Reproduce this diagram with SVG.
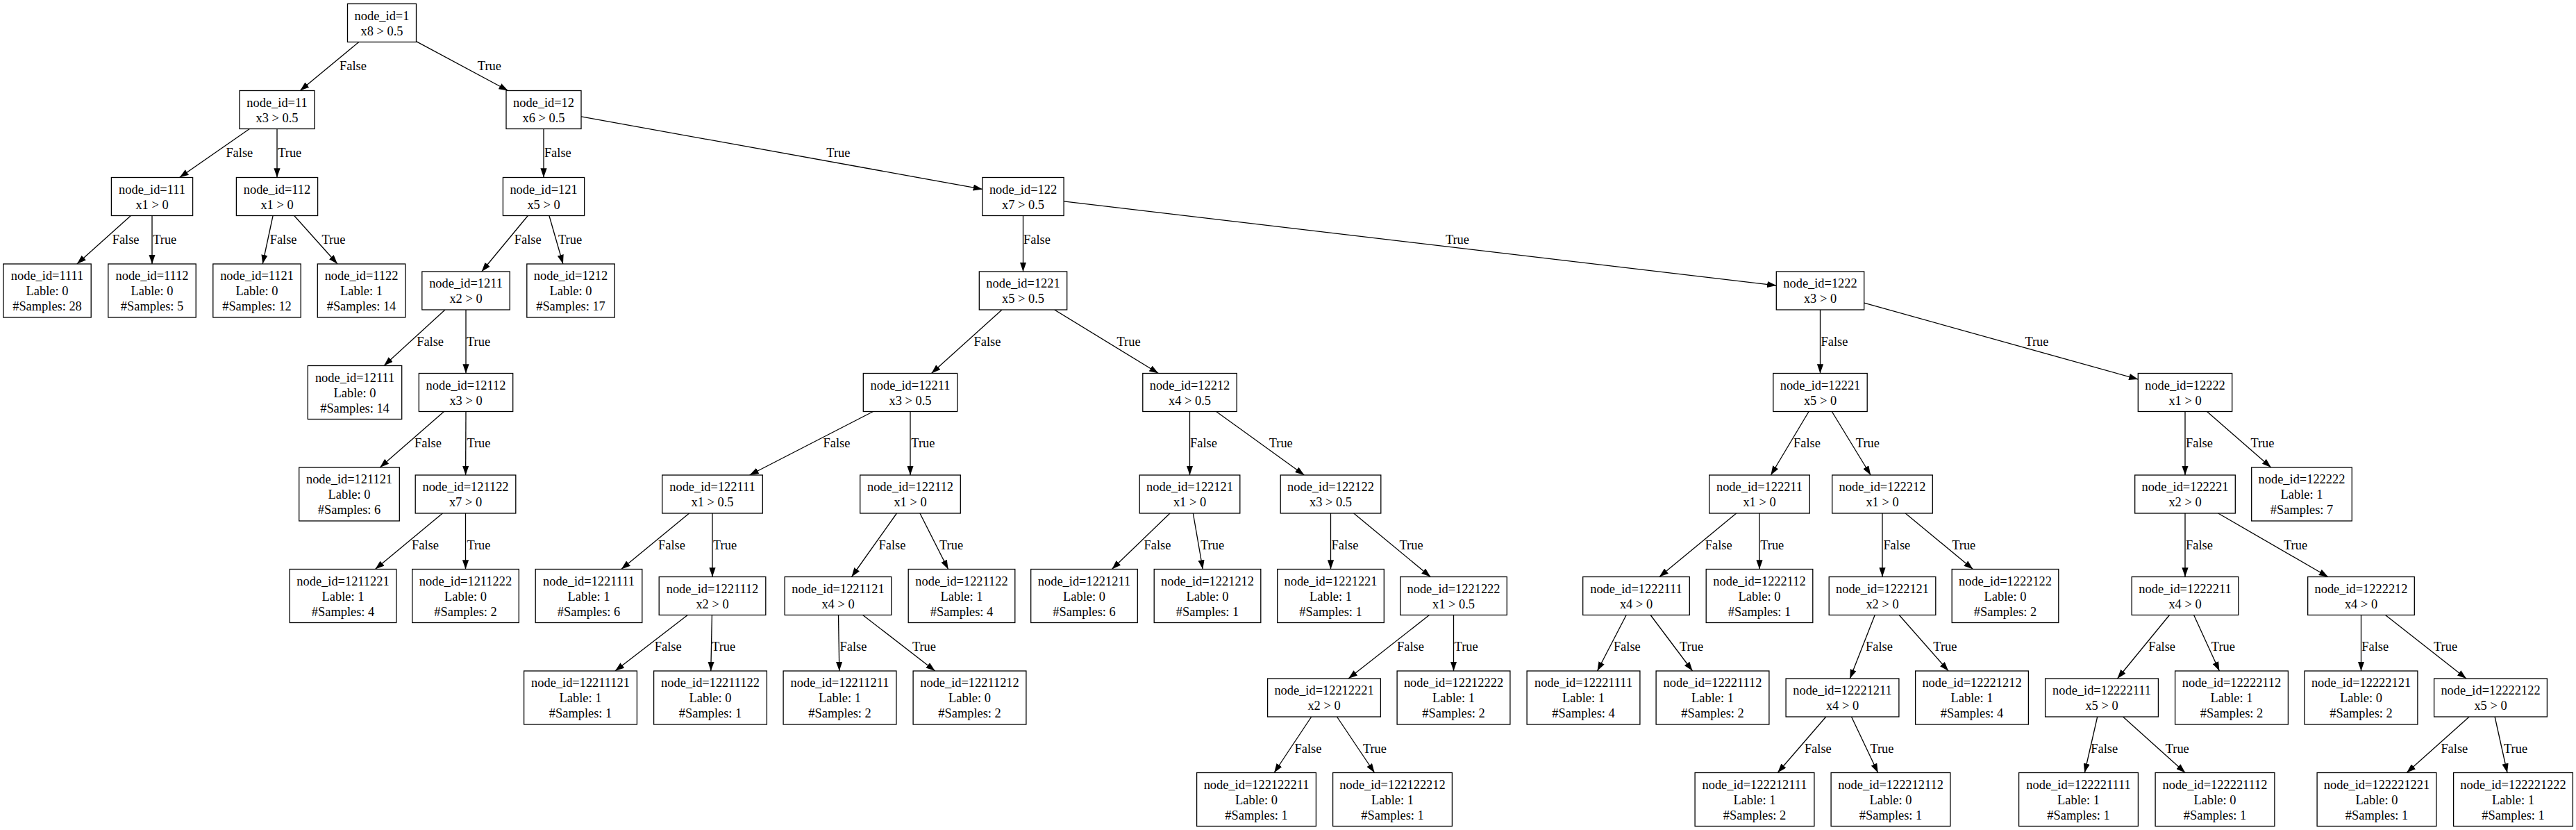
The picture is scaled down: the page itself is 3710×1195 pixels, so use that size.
<svg xmlns="http://www.w3.org/2000/svg" width="3710" height="1195" viewBox="0 0 3710 1195">
<style>
.node rect{fill:#fff;stroke:#000;stroke-width:1.3}
.node text,.el text{font-family:"Liberation Serif","Times New Roman",serif;font-size:18.4px;fill:#000}
.node text{text-anchor:middle}
.el text{text-anchor:start}
.edges line{stroke:#000;stroke-width:1.3;fill:none;marker-end:url(#arr)}
</style>
<defs>
<marker id="arr" markerUnits="userSpaceOnUse" markerWidth="13.2" markerHeight="9.2" viewBox="0 0 13.2 9.2" refX="13.2" refY="4.6" orient="auto"><path d="M0,0 L13.2,4.6 L0,9.2 z" fill="#000"/></marker>
</defs>
<rect width="3710" height="1195" fill="#fff"/>
<g id="connectors">
<g class="edges">
<line x1="516.8" y1="60.5" x2="432.2" y2="130.5"/>
<line x1="599.5" y1="59.6" x2="731.7" y2="130.5"/>
<line x1="359.4" y1="185.5" x2="258.6" y2="255.5"/>
<line x1="399" y1="185.5" x2="399" y2="255.5"/>
<line x1="783" y1="185.5" x2="783" y2="255.5"/>
<line x1="837" y1="167.8" x2="1414.9" y2="272.4"/>
<line x1="188.4" y1="310.5" x2="110.9" y2="380"/>
<line x1="219" y1="310.5" x2="219" y2="380"/>
<line x1="393.1" y1="310.5" x2="378.2" y2="380"/>
<line x1="423.7" y1="310.5" x2="486" y2="380"/>
<line x1="760.3" y1="310.5" x2="693.7" y2="391"/>
<line x1="790.9" y1="310.5" x2="810.9" y2="380"/>
<line x1="1473.5" y1="310.5" x2="1473.5" y2="391"/>
<line x1="1532.1" y1="289.9" x2="2558.3" y2="411"/>
<line x1="641" y1="446" x2="553" y2="526.5"/>
<line x1="671" y1="446" x2="671" y2="537.5"/>
<line x1="1443" y1="446" x2="1341.5" y2="537.5"/>
<line x1="1518.6" y1="446" x2="1668.4" y2="537.5"/>
<line x1="2621.5" y1="446" x2="2621.5" y2="537.5"/>
<line x1="2684.7" y1="436.1" x2="3079.3" y2="546.1"/>
<line x1="639.5" y1="592.5" x2="547.2" y2="673"/>
<line x1="671" y1="592.5" x2="670.6" y2="684"/>
<line x1="1257.5" y1="592.5" x2="1079.5" y2="684"/>
<line x1="1311" y1="592.5" x2="1311" y2="684"/>
<line x1="1713.5" y1="592.5" x2="1713.5" y2="684"/>
<line x1="1751.6" y1="592.5" x2="1878.4" y2="684"/>
<line x1="2605.1" y1="592.5" x2="2550.4" y2="684"/>
<line x1="2638.3" y1="592.5" x2="2694.2" y2="684"/>
<line x1="3147" y1="592.5" x2="3147" y2="684"/>
<line x1="3178.5" y1="592.5" x2="3270.8" y2="673"/>
<line x1="637.4" y1="739" x2="540.4" y2="819.5"/>
<line x1="670.5" y1="739" x2="670.5" y2="819.5"/>
<line x1="992.6" y1="739" x2="894.8" y2="819.5"/>
<line x1="1026" y1="739" x2="1026" y2="830.5"/>
<line x1="1291.5" y1="739" x2="1226.5" y2="830.5"/>
<line x1="1324.9" y1="739" x2="1365.6" y2="819.5"/>
<line x1="1685" y1="739" x2="1601.4" y2="819.5"/>
<line x1="1718.3" y1="739" x2="1732.3" y2="819.5"/>
<line x1="1916.5" y1="739" x2="1916.5" y2="819.5"/>
<line x1="1949.7" y1="739" x2="2060.3" y2="830.5"/>
<line x1="2500.7" y1="739" x2="2389.8" y2="830.5"/>
<line x1="2534" y1="739" x2="2534" y2="819.5"/>
<line x1="2711" y1="739" x2="2711" y2="830.5"/>
<line x1="2744.2" y1="739" x2="2841.5" y2="819.5"/>
<line x1="3147" y1="739" x2="3147" y2="830.5"/>
<line x1="3194.6" y1="739" x2="3352.9" y2="830.5"/>
<line x1="990.3" y1="885.5" x2="885.9" y2="966"/>
<line x1="1025.4" y1="885.5" x2="1023.8" y2="966"/>
<line x1="1207.5" y1="885.5" x2="1208.8" y2="966"/>
<line x1="1242.6" y1="885.5" x2="1346.7" y2="966"/>
<line x1="2058.5" y1="885.5" x2="1942" y2="977"/>
<line x1="2093.5" y1="885.5" x2="2093.5" y2="966"/>
<line x1="2342.2" y1="885.5" x2="2300.5" y2="966"/>
<line x1="2377.1" y1="885.5" x2="2437.6" y2="966"/>
<line x1="2700.2" y1="885.5" x2="2664.3" y2="977"/>
<line x1="2735.2" y1="885.5" x2="2806.1" y2="966"/>
<line x1="3124.5" y1="885.5" x2="3049.5" y2="977"/>
<line x1="3159.6" y1="885.5" x2="3196.4" y2="966"/>
<line x1="3400.5" y1="885.5" x2="3400.5" y2="966"/>
<line x1="3435.5" y1="885.5" x2="3552" y2="977"/>
<line x1="1888.7" y1="1032" x2="1835.1" y2="1112.5"/>
<line x1="1925.5" y1="1032" x2="1979.6" y2="1112.5"/>
<line x1="2629.8" y1="1032" x2="2560.2" y2="1112.5"/>
<line x1="2666.5" y1="1032" x2="2704.7" y2="1112.5"/>
<line x1="3020.7" y1="1032" x2="3002.3" y2="1112.5"/>
<line x1="3057.6" y1="1032" x2="3147.2" y2="1112.5"/>
<line x1="3556.2" y1="1032" x2="3466.1" y2="1112.5"/>
<line x1="3593.1" y1="1032" x2="3611" y2="1112.5"/>
</g>
<g class="el">
<text x="489" y="101.4">False</text>
<text x="687.8" y="101.4">True</text>
<text x="325.4" y="226.3">False</text>
<text x="400.2" y="226.3">True</text>
<text x="783.9" y="226.3">False</text>
<text x="1190.3" y="226.3">True</text>
<text x="161.7" y="351.2">False</text>
<text x="220.2" y="351.2">True</text>
<text x="388.7" y="351.2">False</text>
<text x="463.4" y="351.2">True</text>
<text x="740.8" y="351.2">False</text>
<text x="804" y="351.2">True</text>
<text x="1474" y="351.2">False</text>
<text x="2081.9" y="351.2">True</text>
<text x="600.2" y="497.8">False</text>
<text x="672" y="497.8">True</text>
<text x="1402.5" y="497.8">False</text>
<text x="1608.5" y="497.8">True</text>
<text x="2622.5" y="497.8">False</text>
<text x="2916.4" y="497.8">True</text>
<text x="597" y="644.3">False</text>
<text x="672.4" y="644.3">True</text>
<text x="1185.6" y="644.3">False</text>
<text x="1312.3" y="644.3">True</text>
<text x="1714" y="644.3">False</text>
<text x="1827.7" y="644.3">True</text>
<text x="2583.1" y="644.3">False</text>
<text x="2672.8" y="644.3">True</text>
<text x="3148.1" y="644.3">False</text>
<text x="3241.4" y="644.3">True</text>
<text x="593.1" y="790.8">False</text>
<text x="672.4" y="790.8">True</text>
<text x="948" y="790.8">False</text>
<text x="1027" y="790.8">True</text>
<text x="1265.6" y="790.8">False</text>
<text x="1353" y="790.8">True</text>
<text x="1647.6" y="790.8">False</text>
<text x="1729" y="790.8">True</text>
<text x="1917.5" y="790.8">False</text>
<text x="2015.5" y="790.8">True</text>
<text x="2455.8" y="790.8">False</text>
<text x="2535.2" y="790.8">True</text>
<text x="2712.4" y="790.8">False</text>
<text x="2811.2" y="790.8">True</text>
<text x="3148.1" y="790.8">False</text>
<text x="3289" y="790.8">True</text>
<text x="942.8" y="937.3">False</text>
<text x="1025.1" y="937.3">True</text>
<text x="1209.5" y="937.3">False</text>
<text x="1313.9" y="937.3">True</text>
<text x="2012" y="937.3">False</text>
<text x="2094.6" y="937.3">True</text>
<text x="2323.9" y="937.3">False</text>
<text x="2419" y="937.3">True</text>
<text x="2687.1" y="937.3">False</text>
<text x="2784.3" y="937.3">True</text>
<text x="3094.2" y="937.3">False</text>
<text x="3184.8" y="937.3">True</text>
<text x="3401.3" y="937.3">False</text>
<text x="3505" y="937.3">True</text>
<text x="1864.5" y="1083.8">False</text>
<text x="1962.9" y="1083.8">True</text>
<text x="2598.9" y="1083.8">False</text>
<text x="2693.4" y="1083.8">True</text>
<text x="3011.3" y="1083.8">False</text>
<text x="3118.7" y="1083.8">True</text>
<text x="3515.4" y="1083.8">False</text>
<text x="3606" y="1083.8">True</text>
</g>
</g>
<g id="nodes">
<g id="n1" class="node" transform="translate(550,33)"><rect x="-49.5" y="-27.5" width="99" height="55"/><text y="-4.5">node_id=1</text><text y="17.5">x8 &gt; 0.5</text></g>
<g id="n11" class="node" transform="translate(399,158)"><rect x="-54" y="-27.5" width="108" height="55"/><text y="-4.5">node_id=11</text><text y="17.5">x3 &gt; 0.5</text></g>
<g id="n12" class="node" transform="translate(783,158)"><rect x="-54" y="-27.5" width="108" height="55"/><text y="-4.5">node_id=12</text><text y="17.5">x6 &gt; 0.5</text></g>
<g id="n111" class="node" transform="translate(219,283)"><rect x="-58.6" y="-27.5" width="117.2" height="55"/><text y="-4.5">node_id=111</text><text y="17.5">x1 &gt; 0</text></g>
<g id="n112" class="node" transform="translate(399,283)"><rect x="-58.6" y="-27.5" width="117.2" height="55"/><text y="-4.5">node_id=112</text><text y="17.5">x1 &gt; 0</text></g>
<g id="n121" class="node" transform="translate(783,283)"><rect x="-58.6" y="-27.5" width="117.2" height="55"/><text y="-4.5">node_id=121</text><text y="17.5">x5 &gt; 0</text></g>
<g id="n122" class="node" transform="translate(1473.5,283)"><rect x="-58.6" y="-27.5" width="117.2" height="55"/><text y="-4.5">node_id=122</text><text y="17.5">x7 &gt; 0.5</text></g>
<g id="n1111" class="node" transform="translate(68,418.5)"><rect x="-63.2" y="-38.5" width="126.4" height="77"/><text y="-15.5">node_id=1111</text><text y="6.5">Lable: 0</text><text y="28.5">#Samples: 28</text></g>
<g id="n1112" class="node" transform="translate(219,418.5)"><rect x="-63.2" y="-38.5" width="126.4" height="77"/><text y="-15.5">node_id=1112</text><text y="6.5">Lable: 0</text><text y="28.5">#Samples: 5</text></g>
<g id="n1121" class="node" transform="translate(370,418.5)"><rect x="-63.2" y="-38.5" width="126.4" height="77"/><text y="-15.5">node_id=1121</text><text y="6.5">Lable: 0</text><text y="28.5">#Samples: 12</text></g>
<g id="n1122" class="node" transform="translate(520.5,418.5)"><rect x="-63.2" y="-38.5" width="126.4" height="77"/><text y="-15.5">node_id=1122</text><text y="6.5">Lable: 1</text><text y="28.5">#Samples: 14</text></g>
<g id="n1211" class="node" transform="translate(671,418.5)"><rect x="-63.2" y="-27.5" width="126.4" height="55"/><text y="-4.5">node_id=1211</text><text y="17.5">x2 &gt; 0</text></g>
<g id="n1212" class="node" transform="translate(822,418.5)"><rect x="-63.2" y="-38.5" width="126.4" height="77"/><text y="-15.5">node_id=1212</text><text y="6.5">Lable: 0</text><text y="28.5">#Samples: 17</text></g>
<g id="n1221" class="node" transform="translate(1473.5,418.5)"><rect x="-63.2" y="-27.5" width="126.4" height="55"/><text y="-4.5">node_id=1221</text><text y="17.5">x5 &gt; 0.5</text></g>
<g id="n1222" class="node" transform="translate(2621.5,418.5)"><rect x="-63.2" y="-27.5" width="126.4" height="55"/><text y="-4.5">node_id=1222</text><text y="17.5">x3 &gt; 0</text></g>
<g id="n12111" class="node" transform="translate(511,565)"><rect x="-67.7" y="-38.5" width="135.4" height="77"/><text y="-15.5">node_id=12111</text><text y="6.5">Lable: 0</text><text y="28.5">#Samples: 14</text></g>
<g id="n12112" class="node" transform="translate(671,565)"><rect x="-67.7" y="-27.5" width="135.4" height="55"/><text y="-4.5">node_id=12112</text><text y="17.5">x3 &gt; 0</text></g>
<g id="n12211" class="node" transform="translate(1311,565)"><rect x="-67.7" y="-27.5" width="135.4" height="55"/><text y="-4.5">node_id=12211</text><text y="17.5">x3 &gt; 0.5</text></g>
<g id="n12212" class="node" transform="translate(1713.5,565)"><rect x="-67.7" y="-27.5" width="135.4" height="55"/><text y="-4.5">node_id=12212</text><text y="17.5">x4 &gt; 0.5</text></g>
<g id="n12221" class="node" transform="translate(2621.5,565)"><rect x="-67.7" y="-27.5" width="135.4" height="55"/><text y="-4.5">node_id=12221</text><text y="17.5">x5 &gt; 0</text></g>
<g id="n12222" class="node" transform="translate(3147,565)"><rect x="-67.7" y="-27.5" width="135.4" height="55"/><text y="-4.5">node_id=12222</text><text y="17.5">x1 &gt; 0</text></g>
<g id="n121121" class="node" transform="translate(503,711.5)"><rect x="-72.3" y="-38.5" width="144.6" height="77"/><text y="-15.5">node_id=121121</text><text y="6.5">Lable: 0</text><text y="28.5">#Samples: 6</text></g>
<g id="n121122" class="node" transform="translate(670.5,711.5)"><rect x="-72.3" y="-27.5" width="144.6" height="55"/><text y="-4.5">node_id=121122</text><text y="17.5">x7 &gt; 0</text></g>
<g id="n122111" class="node" transform="translate(1026,711.5)"><rect x="-72.3" y="-27.5" width="144.6" height="55"/><text y="-4.5">node_id=122111</text><text y="17.5">x1 &gt; 0.5</text></g>
<g id="n122112" class="node" transform="translate(1311,711.5)"><rect x="-72.3" y="-27.5" width="144.6" height="55"/><text y="-4.5">node_id=122112</text><text y="17.5">x1 &gt; 0</text></g>
<g id="n122121" class="node" transform="translate(1713.5,711.5)"><rect x="-72.3" y="-27.5" width="144.6" height="55"/><text y="-4.5">node_id=122121</text><text y="17.5">x1 &gt; 0</text></g>
<g id="n122122" class="node" transform="translate(1916.5,711.5)"><rect x="-72.3" y="-27.5" width="144.6" height="55"/><text y="-4.5">node_id=122122</text><text y="17.5">x3 &gt; 0.5</text></g>
<g id="n122211" class="node" transform="translate(2534,711.5)"><rect x="-72.3" y="-27.5" width="144.6" height="55"/><text y="-4.5">node_id=122211</text><text y="17.5">x1 &gt; 0</text></g>
<g id="n122212" class="node" transform="translate(2711,711.5)"><rect x="-72.3" y="-27.5" width="144.6" height="55"/><text y="-4.5">node_id=122212</text><text y="17.5">x1 &gt; 0</text></g>
<g id="n122221" class="node" transform="translate(3147,711.5)"><rect x="-72.3" y="-27.5" width="144.6" height="55"/><text y="-4.5">node_id=122221</text><text y="17.5">x2 &gt; 0</text></g>
<g id="n122222" class="node" transform="translate(3315,711.5)"><rect x="-72.3" y="-38.5" width="144.6" height="77"/><text y="-15.5">node_id=122222</text><text y="6.5">Lable: 1</text><text y="28.5">#Samples: 7</text></g>
<g id="n1211221" class="node" transform="translate(494,858)"><rect x="-76.8" y="-38.5" width="153.6" height="77"/><text y="-15.5">node_id=1211221</text><text y="6.5">Lable: 1</text><text y="28.5">#Samples: 4</text></g>
<g id="n1211222" class="node" transform="translate(670.5,858)"><rect x="-76.8" y="-38.5" width="153.6" height="77"/><text y="-15.5">node_id=1211222</text><text y="6.5">Lable: 0</text><text y="28.5">#Samples: 2</text></g>
<g id="n1221111" class="node" transform="translate(848,858)"><rect x="-76.8" y="-38.5" width="153.6" height="77"/><text y="-15.5">node_id=1221111</text><text y="6.5">Lable: 1</text><text y="28.5">#Samples: 6</text></g>
<g id="n1221112" class="node" transform="translate(1026,858)"><rect x="-76.8" y="-27.5" width="153.6" height="55"/><text y="-4.5">node_id=1221112</text><text y="17.5">x2 &gt; 0</text></g>
<g id="n1221121" class="node" transform="translate(1207,858)"><rect x="-76.8" y="-27.5" width="153.6" height="55"/><text y="-4.5">node_id=1221121</text><text y="17.5">x4 &gt; 0</text></g>
<g id="n1221122" class="node" transform="translate(1385,858)"><rect x="-76.8" y="-38.5" width="153.6" height="77"/><text y="-15.5">node_id=1221122</text><text y="6.5">Lable: 1</text><text y="28.5">#Samples: 4</text></g>
<g id="n1221211" class="node" transform="translate(1561.5,858)"><rect x="-76.8" y="-38.5" width="153.6" height="77"/><text y="-15.5">node_id=1221211</text><text y="6.5">Lable: 0</text><text y="28.5">#Samples: 6</text></g>
<g id="n1221212" class="node" transform="translate(1739,858)"><rect x="-76.8" y="-38.5" width="153.6" height="77"/><text y="-15.5">node_id=1221212</text><text y="6.5">Lable: 0</text><text y="28.5">#Samples: 1</text></g>
<g id="n1221221" class="node" transform="translate(1916.5,858)"><rect x="-76.8" y="-38.5" width="153.6" height="77"/><text y="-15.5">node_id=1221221</text><text y="6.5">Lable: 1</text><text y="28.5">#Samples: 1</text></g>
<g id="n1221222" class="node" transform="translate(2093.5,858)"><rect x="-76.8" y="-27.5" width="153.6" height="55"/><text y="-4.5">node_id=1221222</text><text y="17.5">x1 &gt; 0.5</text></g>
<g id="n1222111" class="node" transform="translate(2356.5,858)"><rect x="-76.8" y="-27.5" width="153.6" height="55"/><text y="-4.5">node_id=1222111</text><text y="17.5">x4 &gt; 0</text></g>
<g id="n1222112" class="node" transform="translate(2534,858)"><rect x="-76.8" y="-38.5" width="153.6" height="77"/><text y="-15.5">node_id=1222112</text><text y="6.5">Lable: 0</text><text y="28.5">#Samples: 1</text></g>
<g id="n1222121" class="node" transform="translate(2711,858)"><rect x="-76.8" y="-27.5" width="153.6" height="55"/><text y="-4.5">node_id=1222121</text><text y="17.5">x2 &gt; 0</text></g>
<g id="n1222122" class="node" transform="translate(2888,858)"><rect x="-76.8" y="-38.5" width="153.6" height="77"/><text y="-15.5">node_id=1222122</text><text y="6.5">Lable: 0</text><text y="28.5">#Samples: 2</text></g>
<g id="n1222211" class="node" transform="translate(3147,858)"><rect x="-76.8" y="-27.5" width="153.6" height="55"/><text y="-4.5">node_id=1222211</text><text y="17.5">x4 &gt; 0</text></g>
<g id="n1222212" class="node" transform="translate(3400.5,858)"><rect x="-76.8" y="-27.5" width="153.6" height="55"/><text y="-4.5">node_id=1222212</text><text y="17.5">x4 &gt; 0</text></g>
<g id="n12211121" class="node" transform="translate(836,1004.5)"><rect x="-81.4" y="-38.5" width="162.8" height="77"/><text y="-15.5">node_id=12211121</text><text y="6.5">Lable: 1</text><text y="28.5">#Samples: 1</text></g>
<g id="n12211122" class="node" transform="translate(1023,1004.5)"><rect x="-81.4" y="-38.5" width="162.8" height="77"/><text y="-15.5">node_id=12211122</text><text y="6.5">Lable: 0</text><text y="28.5">#Samples: 1</text></g>
<g id="n12211211" class="node" transform="translate(1209.5,1004.5)"><rect x="-81.4" y="-38.5" width="162.8" height="77"/><text y="-15.5">node_id=12211211</text><text y="6.5">Lable: 1</text><text y="28.5">#Samples: 2</text></g>
<g id="n12211212" class="node" transform="translate(1396.5,1004.5)"><rect x="-81.4" y="-38.5" width="162.8" height="77"/><text y="-15.5">node_id=12211212</text><text y="6.5">Lable: 0</text><text y="28.5">#Samples: 2</text></g>
<g id="n12212221" class="node" transform="translate(1907,1004.5)"><rect x="-81.4" y="-27.5" width="162.8" height="55"/><text y="-4.5">node_id=12212221</text><text y="17.5">x2 &gt; 0</text></g>
<g id="n12212222" class="node" transform="translate(2093.5,1004.5)"><rect x="-81.4" y="-38.5" width="162.8" height="77"/><text y="-15.5">node_id=12212222</text><text y="6.5">Lable: 1</text><text y="28.5">#Samples: 2</text></g>
<g id="n12221111" class="node" transform="translate(2280.5,1004.5)"><rect x="-81.4" y="-38.5" width="162.8" height="77"/><text y="-15.5">node_id=12221111</text><text y="6.5">Lable: 1</text><text y="28.5">#Samples: 4</text></g>
<g id="n12221112" class="node" transform="translate(2466.5,1004.5)"><rect x="-81.4" y="-38.5" width="162.8" height="77"/><text y="-15.5">node_id=12221112</text><text y="6.5">Lable: 1</text><text y="28.5">#Samples: 2</text></g>
<g id="n12221211" class="node" transform="translate(2653.5,1004.5)"><rect x="-81.4" y="-27.5" width="162.8" height="55"/><text y="-4.5">node_id=12221211</text><text y="17.5">x4 &gt; 0</text></g>
<g id="n12221212" class="node" transform="translate(2840,1004.5)"><rect x="-81.4" y="-38.5" width="162.8" height="77"/><text y="-15.5">node_id=12221212</text><text y="6.5">Lable: 1</text><text y="28.5">#Samples: 4</text></g>
<g id="n12222111" class="node" transform="translate(3027,1004.5)"><rect x="-81.4" y="-27.5" width="162.8" height="55"/><text y="-4.5">node_id=12222111</text><text y="17.5">x5 &gt; 0</text></g>
<g id="n12222112" class="node" transform="translate(3214,1004.5)"><rect x="-81.4" y="-38.5" width="162.8" height="77"/><text y="-15.5">node_id=12222112</text><text y="6.5">Lable: 1</text><text y="28.5">#Samples: 2</text></g>
<g id="n12222121" class="node" transform="translate(3400.5,1004.5)"><rect x="-81.4" y="-38.5" width="162.8" height="77"/><text y="-15.5">node_id=12222121</text><text y="6.5">Lable: 0</text><text y="28.5">#Samples: 2</text></g>
<g id="n12222122" class="node" transform="translate(3587,1004.5)"><rect x="-81.4" y="-27.5" width="162.8" height="55"/><text y="-4.5">node_id=12222122</text><text y="17.5">x5 &gt; 0</text></g>
<g id="n122122211" class="node" transform="translate(1809.5,1151)"><rect x="-85.9" y="-38.5" width="171.8" height="77"/><text y="-15.5">node_id=122122211</text><text y="6.5">Lable: 0</text><text y="28.5">#Samples: 1</text></g>
<g id="n122122212" class="node" transform="translate(2005.5,1151)"><rect x="-85.9" y="-38.5" width="171.8" height="77"/><text y="-15.5">node_id=122122212</text><text y="6.5">Lable: 1</text><text y="28.5">#Samples: 1</text></g>
<g id="n122212111" class="node" transform="translate(2527,1151)"><rect x="-85.9" y="-38.5" width="171.8" height="77"/><text y="-15.5">node_id=122212111</text><text y="6.5">Lable: 1</text><text y="28.5">#Samples: 2</text></g>
<g id="n122212112" class="node" transform="translate(2723,1151)"><rect x="-85.9" y="-38.5" width="171.8" height="77"/><text y="-15.5">node_id=122212112</text><text y="6.5">Lable: 0</text><text y="28.5">#Samples: 1</text></g>
<g id="n122221111" class="node" transform="translate(2993.5,1151)"><rect x="-85.9" y="-38.5" width="171.8" height="77"/><text y="-15.5">node_id=122221111</text><text y="6.5">Lable: 1</text><text y="28.5">#Samples: 1</text></g>
<g id="n122221112" class="node" transform="translate(3190,1151)"><rect x="-85.9" y="-38.5" width="171.8" height="77"/><text y="-15.5">node_id=122221112</text><text y="6.5">Lable: 0</text><text y="28.5">#Samples: 1</text></g>
<g id="n122221221" class="node" transform="translate(3423,1151)"><rect x="-85.9" y="-38.5" width="171.8" height="77"/><text y="-15.5">node_id=122221221</text><text y="6.5">Lable: 0</text><text y="28.5">#Samples: 1</text></g>
<g id="n122221222" class="node" transform="translate(3619.5,1151)"><rect x="-85.9" y="-38.5" width="171.8" height="77"/><text y="-15.5">node_id=122221222</text><text y="6.5">Lable: 1</text><text y="28.5">#Samples: 1</text></g>
</g>
</svg>
